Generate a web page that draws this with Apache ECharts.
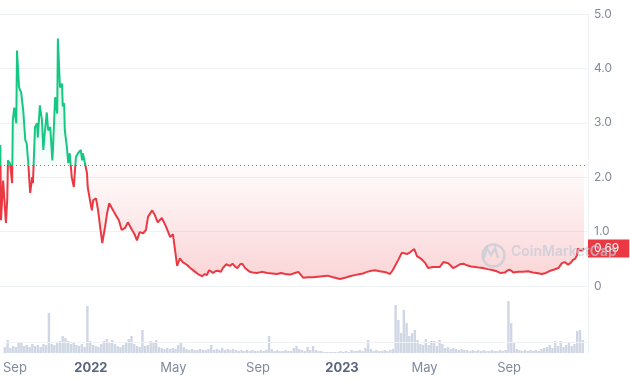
<!DOCTYPE html>
<html><head><meta charset="utf-8">
<script src="https://cdn.jsdelivr.net/npm/echarts@6/dist/echarts.min.js"></script>
<style>html,body{margin:0;padding:0;background:#fff}#c{width:630px;height:380px}</style>
</head><body><div id="c"></div>
<script>
// ---- data ----
const priceDates = [
'2021-08-28','2021-08-29','2021-08-30','2021-09-02','2021-09-06','2021-09-08','2021-09-09','2021-09-12','2021-09-15','2021-09-16',
'2021-09-18','2021-09-21','2021-09-22','2021-09-25','2021-09-28','2021-10-01','2021-10-04','2021-10-06','2021-10-08','2021-10-11',
'2021-10-14','2021-10-15','2021-10-18','2021-10-21','2021-10-22','2021-10-25','2021-10-28','2021-10-30','2021-11-01','2021-11-04',
'2021-11-06','2021-11-09','2021-11-12','2021-11-13','2021-11-16','2021-11-19','2021-11-20','2021-11-23','2021-11-26','2021-11-27',
'2021-11-29','2021-11-30','2021-12-03','2021-12-05','2021-12-07','2021-12-10','2021-12-13','2021-12-16','2021-12-19','2021-12-23',
'2021-12-25','2021-12-26','2021-12-29','2022-01-01','2022-01-02','2022-01-05','2022-01-08','2022-01-10','2022-01-14','2022-01-17',
'2022-01-20','2022-01-23','2022-01-27','2022-01-30','2022-02-02','2022-02-06','2022-02-09','2022-02-13','2022-02-16','2022-02-20',
'2022-02-25','2022-03-01','2022-03-07','2022-03-11','2022-03-14','2022-03-18','2022-03-23','2022-03-27','2022-03-30','2022-04-05',
'2022-04-09','2022-04-13','2022-04-19','2022-04-24','2022-04-26',
'2022-05-01','2022-05-05','2022-05-08','2022-05-11','2022-05-15','2022-05-19','2022-05-25','2022-05-30','2022-06-06','2022-06-10',
'2022-06-16','2022-06-20','2022-06-23','2022-06-26','2022-07-02','2022-07-05','2022-07-09','2022-07-13','2022-07-16','2022-07-21',
'2022-07-26','2022-07-30','2022-08-03','2022-08-06','2022-08-10','2022-08-13','2022-08-17','2022-08-20','2022-08-24','2022-08-28',
'2022-09-03','2022-09-10','2022-09-18','2022-09-25','2022-10-02','2022-10-08','2022-10-14','2022-10-21','2022-10-28','2022-11-02',
'2022-11-09','2022-11-16','2022-11-23','2022-11-30','2022-12-07','2022-12-14','2022-12-22','2023-01-01','2023-01-08','2023-01-15',
'2023-01-22','2023-01-30','2023-02-03','2023-02-09','2023-02-15','2023-02-21','2023-02-27','2023-03-04','2023-03-09','2023-03-14',
'2023-03-18','2023-03-26','2023-03-31','2023-04-08','2023-04-12','2023-04-18','2023-04-22','2023-04-28','2023-05-04','2023-05-08',
'2023-05-15','2023-05-25','2023-05-30','2023-06-06','2023-06-13','2023-06-18','2023-06-23','2023-06-28','2023-07-03','2023-07-09',
'2023-07-15','2023-07-20','2023-07-26','2023-08-02','2023-08-10','2023-08-15','2023-08-20','2023-08-27','2023-08-31','2023-09-03',
'2023-09-08','2023-09-15','2023-09-22','2023-09-29','2023-10-06','2023-10-12','2023-10-19','2023-10-25','2023-10-31','2023-11-05',
'2023-11-12','2023-11-17','2023-11-21','2023-11-26','2023-11-30','2023-12-03','2023-12-06','2023-12-09','2023-12-10','2023-12-15',
'2023-12-19'
];
const priceValues = [
2.22,2.59,1.21,1.94,1.16,1.60,2.31,2.25,1.89,3.05,
3.28,2.99,4.33,3.65,3.56,3.23,2.68,2.62,2.31,1.71,
2.00,1.89,2.92,2.99,2.73,3.32,3.05,2.50,2.81,3.19,
2.86,2.92,2.31,2.55,3.47,3.17,4.55,3.65,3.72,3.30,
3.36,2.86,2.55,2.26,2.44,2.00,1.82,2.37,2.44,2.50,
2.31,2.44,2.26,2.07,1.82,1.60,1.39,1.58,1.61,1.39,
1.08,0.79,1.08,1.34,1.52,1.43,1.36,1.27,1.21,1.03,
1.07,1.17,1.03,0.94,0.84,0.99,0.97,1.03,1.27,1.39,
1.30,1.17,1.25,1.12,1.06,
0.90,0.95,0.66,0.37,0.51,0.44,0.39,0.33,0.26,0.22,
0.18,0.22,0.20,0.29,0.24,0.27,0.28,0.26,0.33,0.40,
0.37,0.41,0.35,0.33,0.40,0.41,0.33,0.30,0.26,0.25,
0.24,0.26,0.24,0.23,0.22,0.24,0.22,0.21,0.24,0.26,
0.15,0.16,0.16,0.17,0.18,0.19,0.16,0.13,0.15,0.18,
0.20,0.22,0.23,0.26,0.28,0.29,0.27,0.26,0.25,0.22,
0.29,0.48,0.61,0.59,0.62,0.68,0.55,0.50,0.42,0.33,
0.35,0.35,0.44,0.42,0.33,0.36,0.40,0.41,0.38,0.36,
0.35,0.34,0.33,0.31,0.29,0.27,0.24,0.25,0.29,0.30,
0.25,0.26,0.26,0.27,0.25,0.24,0.22,0.24,0.28,0.30,
0.33,0.42,0.44,0.39,0.43,0.48,0.50,0.57,0.69,0.64,
0.69
];
const baselinePrice = 2.22;
const volumeStart = '2021-08-29';
const volumeStepDays = 4;
const volumeValues = [
6,13,5,7,6,10,11,7,8,6, 9,7,8,6,9,8,40,9,8,10, 12,17,15,12,9,11,8,7,9,6,
47,12,8,7,6,9,12,14,10,13, 9,7,6,8,10,14,17,9,7,6, 23,7,8,12,11,13,6,5,4,5,
4,5,4,8,11,6,4,3,4,3, 3,4,3,3,4,8,3,4,3,5, 3,4,3,4,3,2,3,2,3,2,
3,2,2,3,2,3,17,4,2,3, 2,2,3,2,2,5,7,4,3,2, 6,3,7,3,2,2,1,1,1,1,
1,1,2,1,2,1,3,2,2,3, 2,5,13,4,2,3,2,2,3,2, 3,4,48,33,20,43,30,17,20,23,
13,9,8,14,8,12,12,7,13,9, 5,6,4,5,4,3,4,3,3,2, 3,2,3,2,3,2,2,3,2,2,
3,2,3,52,30,10,4,3,2,3, 2,3,2,3,2,4,5,6,8,5, 12,7,12,6,8,10,7,9,22,23,
13
];
const volumeGuide = 11;
const tickDates = ['2021-09-01','2022-01-01','2022-05-01','2022-09-01','2023-01-01','2023-05-01','2023-09-01'];
const tickLabels = ['Sep','2022','May','Sep','2023','May','Sep'];
const xMinDate = '2021-08-28', xMinHours = 12;
const xMaxDate = '2023-12-24', xMaxHours = 16;
const watermarkText = 'CoinMarketCap';

// ---- build ----
const DAY = 86400000;
function ts(s, h) { const p = s.split('-').map(Number); return Date.UTC(p[0], p[1] - 1, p[2], h || 0); }
const green = '#16c784', red = '#ea3943';
const priceData = priceDates.map((d, i) => [ts(d), priceValues[i]]);
const volStartTs = ts(volumeStart);
const volumeData = volumeValues.map((v, i) => [volStartTs + i * volumeStepDays * DAY, v]);
const tickTimes = tickDates.map(d => ts(d));
const xMin = ts(xMinDate, xMinHours), xMax = ts(xMaxDate, xMaxHours);
const lastPrice = priceValues[priceValues.length - 1];

const chart = echarts.init(document.getElementById('c'), null, {renderer: 'canvas'});
const gridTop = 14, gridBottomY = 286;
const baseOffset = 1 - baselinePrice / 5;
const areaGrad = new echarts.graphic.LinearGradient(0, gridTop, 0, gridBottomY, [
  {offset: 0, color: 'rgba(22,199,132,0.30)'},
  {offset: baseOffset, color: 'rgba(22,199,132,0.04)'},
  {offset: baseOffset, color: 'rgba(234,57,67,0.02)'},
  {offset: 1, color: 'rgba(234,57,67,0.32)'}
], true);

const wmColor = 'rgba(196,202,214,0.72)';
chart.setOption({
  animation: false,
  textStyle: {fontFamily: 'Inter, "Noto Sans", sans-serif'},
  grid: [
    {left: 0, right: 42, top: gridTop, bottom: 380 - gridBottomY},
    {left: 0, right: 42, top: 290, bottom: 27}
  ],
  xAxis: [
    {type: 'value', gridIndex: 0, min: xMin, max: xMax, show: false, splitLine: {show: false}},
    {type: 'value', gridIndex: 1, min: xMin, max: xMax,
      axisLine: {show: false}, axisTick: {show: false}, splitLine: {show: false},
      axisLabel: {
        customValues: tickTimes, margin: 9, fontSize: 13, color: '#808a9d',
        formatter: function (v) {
          let best = 0;
          tickTimes.forEach((t, k) => { if (Math.abs(t - v) < Math.abs(tickTimes[best] - v)) best = k; });
          const lab = tickLabels[best];
          if (best === 0) return '{f|' + lab + '}';
          return /^\d{4}$/.test(lab) ? '{y|' + lab + '}' : lab;
        },
        rich: {
          y: {fontWeight: 'bold', color: '#58667e', fontSize: 13},
          f: {color: '#808a9d', fontSize: 13, padding: [0, 0, 0, 16]}
        }
      }
    }
  ],
  yAxis: [
    {type: 'value', gridIndex: 0, position: 'right', min: 0, max: 5, interval: 1,
      axisLine: {show: true, lineStyle: {color: '#eff2f5'}}, axisTick: {show: false},
      splitLine: {lineStyle: {color: '#eff2f5'}},
      axisLabel: {margin: 6, fontSize: 12, color: '#808a9d', formatter: v => v === 0 ? '0' : v.toFixed(1)}
    },
    {type: 'value', gridIndex: 1, position: 'right', min: 0, max: 63,
      axisLine: {show: true, lineStyle: {color: '#eff2f5'}}, axisTick: {show: false},
      splitLine: {show: false}, axisLabel: {show: false}
    }
  ],
  visualMap: {show: false, type: 'piecewise', seriesIndex: 0, dimension: 1,
    pieces: [{gt: baselinePrice, lte: 100, color: green}, {gte: -100, lte: baselinePrice, color: red}]},
  series: [
    {type: 'line', xAxisIndex: 0, yAxisIndex: 0, data: priceData, showSymbol: false, symbol: 'none',
      lineStyle: {width: 2}, areaStyle: {origin: baselinePrice, color: areaGrad}, z: 3,
      markLine: {symbol: 'none', silent: true, animation: false, data: [
        {yAxis: baselinePrice, lineStyle: {type: [1, 3], color: '#7d8597', width: 1}, label: {show: false}},
        {yAxis: lastPrice, lineStyle: {color: 'rgba(0,0,0,0)', width: 1}, label: {show: true, position: 'end', distance: 0,
          formatter: () => lastPrice.toFixed(2), backgroundColor: red, color: '#fff', fontSize: 12, opacity: 1,
          padding: [3, 10, 3, 6], lineHeight: 12}}
      ]}
    },
    {type: 'bar', xAxisIndex: 1, yAxisIndex: 1, data: volumeData, barWidth: 2.4,
      itemStyle: {color: '#cfd6e4'}, z: 2,
      markLine: {symbol: 'none', silent: true, animation: false,
        data: [{yAxis: volumeGuide}], lineStyle: {color: '#eff2f5', type: 'solid', width: 1}, label: {show: false}}
    }
  ],
  graphic: [
    {type: 'circle', left: 480, top: 242, zlevel: 2, z: 100, shape: {r: 11},
      style: {fill: 'none', stroke: wmColor, lineWidth: 2.5}},
    {type: 'polyline', zlevel: 2, z: 100, shape: {points: [[484, 258], [487, 248], [491, 255], [495, 248], [498, 258]]},
      style: {fill: 'none', stroke: wmColor, lineWidth: 2.5}},
    {type: 'text', left: 511, top: 245, zlevel: 2, z: 100,
      style: {text: watermarkText, font: '600 14px Inter, sans-serif', fill: wmColor}}
  ]
});
</script></body></html>
